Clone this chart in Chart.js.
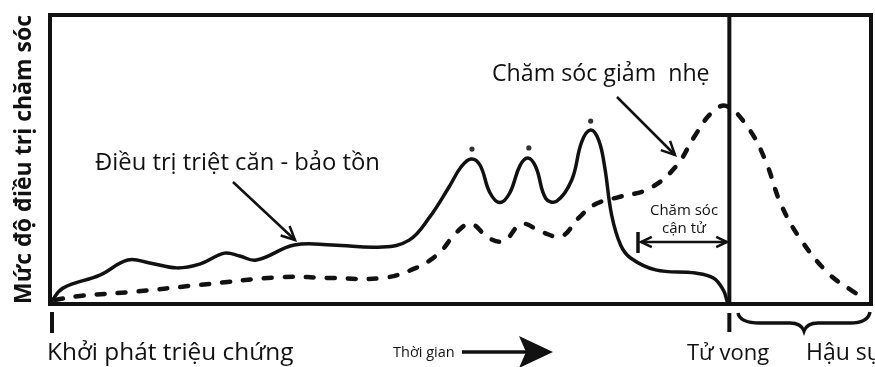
<!DOCTYPE html>
<html lang="vi">
<head>
<meta charset="utf-8">
<title>Mức độ điều trị chăm sóc</title>
<script src="https://cdn.jsdelivr.net/npm/chart.js@4.4.1/dist/chart.umd.min.js"></script>
<style>
  html, body { margin: 0; padding: 0; background: #fff; }
  #wrap { width: 875px; height: 367px; }
</style>
</head>
<body>
<div id="wrap"><canvas id="careChart" width="875" height="367"></canvas></div>
<script>
// Timeline in arbitrary units: 0 = symptom onset, 681 = death, 823 = end of bereavement
const curativeTime = [1, 13, 50, 78, 100, 127, 150, 175, 190, 207, 245, 283, 333, 360, 380, 400, 412, 422, 431, 441, 451, 461, 471, 479, 487, 497, 508, 523, 533, 542, 550, 556, 563, 572, 582, 607, 647, 665, 675, 679];
const curativeLevel = [0.7, 5.5, 10, 15.2, 14.2, 12.5, 13.8, 17.6, 16.6, 15.2, 20.4, 20.4, 19.7, 22.1, 29.8, 40.5, 47.4, 50.2, 48.1, 38.5, 35.1, 38.5, 47.8, 50.5, 47.4, 36.5, 35.6, 42.9, 56.1, 60.2, 56.7, 47.5, 30.8, 20.4, 15.9, 11.8, 10.7, 9, 4.8, 0.7];

const palliativeTime = [5, 30, 83, 150, 233, 283, 333, 367, 390, 407, 422, 440, 455, 473, 493, 513, 530, 547, 570, 600, 627, 647, 663, 678, 700, 717, 733, 753, 780, 803, 818];
const palliativeLevel = [1.4, 2.8, 4.2, 6.6, 9.3, 9, 9, 12.5, 17.6, 24.6, 27.7, 22.8, 21.8, 27.7, 24.9, 23.5, 29.8, 34.6, 37, 39.8, 47.4, 58.5, 66.1, 68.5, 60.9, 49.8, 34.3, 22.1, 10.7, 4.8, 1.7];

// small marks drawn above the three treatment peaks
const peakMarkTime = [423, 480, 542];
const peakMarkLevel = [53.6, 54, 63.3];

const deathTime = 681;
const timeMax = 823;
const levelMax = 100;

const yAxisTitle = "Mức độ điều trị chăm sóc";
const curativeLabel = "Điều trị triệt căn - bảo tồn";
const palliativeLabel = "Chăm sóc giảm  nhẹ";
const endOfLifeLabel = ["Chăm sóc", "cận tử"];
const onsetLabel = "Khởi phát triệu chứng";
const timeLabel = "Thời gian";
const deathLabel = "Tử vong";
const bereavementLabel = "Hậu sự";

const INK = "#111111";
const FONT = "'Open Sans', sans-serif";

const toPoints = (xs, ys) => xs.map((x, i) => ({ x: x, y: ys[i] }));

/**
 * Draw a line with an open V arrow head at (x2, y2)
 */
function drawArrow(ctx, x1, y1, x2, y2, head) {
  ctx.beginPath();
  ctx.moveTo(x1, y1);
  ctx.lineTo(x2, y2);
  ctx.stroke();
  const a = Math.atan2(y2 - y1, x2 - x1);
  ctx.beginPath();
  ctx.moveTo(x2 - head * Math.cos(a - 0.45), y2 - head * Math.sin(a - 0.45));
  ctx.lineTo(x2, y2);
  ctx.lineTo(x2 - head * Math.cos(a + 0.45), y2 - head * Math.sin(a + 0.45));
  ctx.stroke();
}

function text(ctx, str, x, y, size, align) {
  ctx.font = size + "px " + FONT;
  ctx.textAlign = align || "left";
  ctx.textBaseline = "alphabetic";
  ctx.fillText(str, x, y);
}

// Frame, death line, arrows and the annotations of the diagram
const diagramDecor = {
  id: "diagramDecor",
  afterDatasetsDraw(chart) {
    const { ctx, chartArea, scales } = chart;
    const xDeath = scales.x.getPixelForValue(deathTime);

    ctx.save();
    ctx.strokeStyle = INK;
    ctx.fillStyle = INK;
    ctx.lineCap = "butt";

    // frame + death divider
    ctx.lineWidth = 4;
    ctx.strokeRect(chartArea.left, chartArea.top, chartArea.right - chartArea.left, chartArea.bottom - chartArea.top);
    ctx.beginPath();
    ctx.moveTo(xDeath, chartArea.top);
    ctx.lineTo(xDeath, chartArea.bottom);
    ctx.stroke();

    // ticks under the axis
    ctx.lineWidth = 4;
    ctx.beginPath();
    ctx.moveTo(chartArea.left + 2, 312);
    ctx.lineTo(chartArea.left + 2, 333);
    ctx.moveTo(xDeath, 313);
    ctx.lineTo(xDeath, 332);
    ctx.stroke();

    // curly brace for bereavement
    ctx.lineWidth = 3.5;
    ctx.beginPath();
    ctx.moveTo(738, 313);
    ctx.quadraticCurveTo(740, 323, 760, 323);
    ctx.lineTo(790, 323);
    ctx.quadraticCurveTo(801, 323, 804, 331);
    ctx.quadraticCurveTo(807, 323, 818, 323);
    ctx.lineTo(850, 323);
    ctx.quadraticCurveTo(868, 323, 870, 312);
    ctx.stroke();

    // pointer arrows
    ctx.lineWidth = 2.5;
    drawArrow(ctx, 233, 182, 295, 240, 15);
    drawArrow(ctx, 617, 97, 675, 155, 15);

    // near-death double arrow
    ctx.lineWidth = 2.5;
    drawArrow(ctx, 684, 242, 641, 242, 12);
    drawArrow(ctx, 684, 242, 727, 242, 12);
    ctx.lineWidth = 3.5;
    ctx.beginPath();
    ctx.moveTo(638, 232);
    ctx.lineTo(638, 253);
    ctx.stroke();

    // time arrow
    ctx.lineWidth = 3.5;
    ctx.beginPath();
    ctx.moveTo(462, 352);
    ctx.lineTo(528, 352);
    ctx.stroke();
    ctx.beginPath();
    ctx.moveTo(519, 336);
    ctx.lineTo(553, 352);
    ctx.lineTo(519, 368);
    ctx.lineTo(526, 352);
    ctx.closePath();
    ctx.fill();

    // labels
    text(ctx, curativeLabel, 95, 170, 23.8);
    text(ctx, palliativeLabel, 492, 81, 23.2);
    text(ctx, endOfLifeLabel[0], 684, 215, 15, "center");
    text(ctx, endOfLifeLabel[1], 684, 233, 15, "center");
    text(ctx, onsetLabel, 47, 360, 24.4);
    text(ctx, timeLabel, 393, 357, 14.5);
    text(ctx, deathLabel, 687, 360, 22);
    text(ctx, bereavementLabel, 806, 360, 23);

    ctx.restore();
  },
};

new Chart(document.getElementById("careChart"), {
  type: "line",
  data: {
    datasets: [
      {
        label: curativeLabel,
        data: toPoints(curativeTime, curativeLevel),
        borderColor: INK,
        borderWidth: 3.5,
        tension: 0.4,
        pointRadius: 0,
        fill: false,
      },
      {
        label: palliativeLabel,
        data: toPoints(palliativeTime, palliativeLevel),
        borderColor: INK,
        borderWidth: 4.5,
        borderDash: [8, 13],
        borderCapStyle: "round",
        tension: 0.4,
        pointRadius: 0,
        fill: false,
      },
      {
        type: "scatter",
        label: "peaks",
        data: toPoints(peakMarkTime, peakMarkLevel),
        backgroundColor: "#333",
        borderWidth: 0,
        pointRadius: 2.6,
      },
    ],
  },
  options: {
    responsive: false,
    animation: false,
    devicePixelRatio: 1,
    layout: { padding: { top: 15, right: 2, bottom: 63, left: 0 } },
    scales: {
      x: { type: "linear", min: 0, max: timeMax, display: false },
      y: {
        min: 0,
        max: levelMax,
        grid: { display: false, drawTicks: false },
        border: { display: false },
        ticks: { display: false },
        title: {
          display: true,
          text: yAxisTitle,
          color: INK,
          font: { family: FONT, size: 23, weight: "bold", lineHeight: 1.2 },
          padding: { top: 11, bottom: 11.4 },
        },
      },
    },
    plugins: {
      legend: { display: false },
      tooltip: { enabled: false },
    },
  },
  plugins: [diagramDecor],
});
</script>
</body>
</html>
